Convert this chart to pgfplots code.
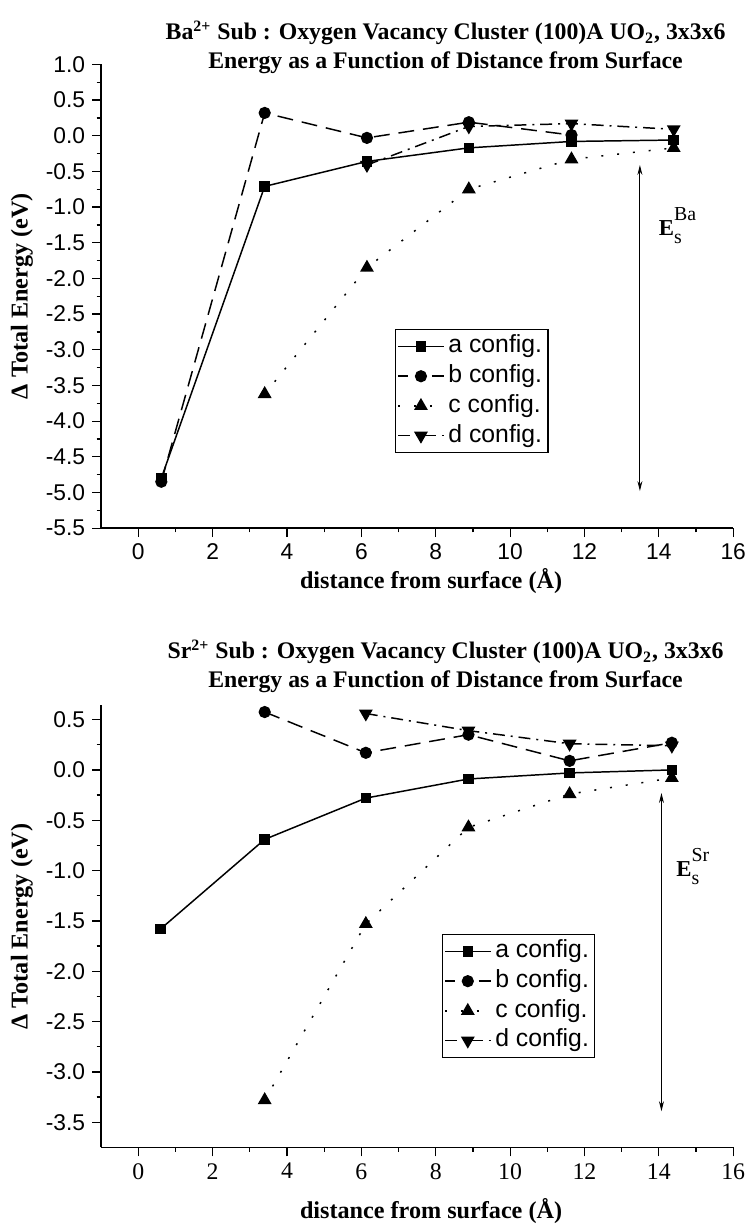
\documentclass[border=0pt]{standalone}
\usepackage{fontspec}
\setmainfont{Liberation Serif}
\newfontfamily\arial{Liberation Sans}
\usepackage{pgfplots}
\pgfplotsset{compat=1.18}
\usetikzlibrary{arrows.meta}

\pgfplotsset{enrg/.style={
  scale only axis, width=319pt,
  axis lines*=left,
  axis line style={line width=0.75pt},
  xmin=-1, xmax=16, xtick={0,2,...,16},
  minor x tick num=1, minor y tick num=1,
  tick align=outside, tick pos=left,
  major tick length=4.5pt, minor tick length=2.2pt,
  every tick/.style={black, line width=0.6pt},
  /pgf/number format/assume math mode=true,
  yticklabel style={font=\arial\fontsize{11.5}{13}\selectfont,
    /pgf/number format/fixed, /pgf/number format/fixed zerofill,
    /pgf/number format/precision=1},
  xlabel={distance from surface (Å)},
  ylabel={Δ Total Energy (eV)},
  every axis y label/.style={at={(axis description cs:-0.116,0.5)}, rotate=90, anchor=base,
    font=\bfseries\fontsize{12.2}{14}\selectfont},
  clip=false,
  legend cell align=left,
  legend style={draw=black, line width=0.6pt, fill=white,
    font=\arial\fontsize{12.5}{14}\selectfont,
    nodes={text height=9pt, text depth=2.6pt, inner ysep=1.7pt, inner xsep=2pt},
    row sep=0pt, inner sep=1pt},
  legend image code/.code={\draw[mark repeat=2, mark phase=2]
    plot coordinates {(0pt,0pt) (11.5pt,0pt) (23pt,0pt)};},
  every axis plot/.append style={black, line width=0.75pt},
}}
\pgfplotsset{
  cfga/.style={solid, mark=square*, mark size=2.3pt, mark options={solid, fill=black}},
  cfgb/.style={dash pattern=on 8pt off 4.5pt, mark=*, mark size=2.7pt, mark options={solid, fill=black},
    legend image code/.code={\draw[solid] (0pt,0pt) -- (5pt,0pt) (17pt,0pt) -- (23pt,0pt);
      \draw plot[only marks] coordinates {(11.5pt,0pt)};}},
  cfgc/.style={dash pattern=on 1pt off 7pt, mark=triangle*, mark size=3.3pt, mark options={solid, fill=black}},
  cfgd/.style={dash pattern=on 6pt off 3pt on 1pt off 3pt, mark=triangle*, mark size=3.3pt,
    mark options={solid, fill=black, rotate=180}},
}
\newcommand{\ttl}{\bfseries\fontsize{12}{14}\selectfont}
\newcommand{\es}[1]{{\fontsize{11.5}{13}\selectfont\bfseries E}{\fontsize{10}{12}\selectfont
  \makebox[0pt][l]{\raisebox{-4pt}{s}}\raisebox{7.5pt}{#1}}}

\begin{document}
\begin{tikzpicture}

% Ba panel
\begin{axis}[enrg,
  at={(0,0)}, anchor=north west,
  height=234pt,
  ymin=-5.5, ymax=1.0,
  ytick={-5.5,-5,...,1.0},
  xticklabel style={font=\arial\fontsize{11.5}{13}\selectfont},
  every axis x label/.style={at={(axis description cs:0.522,0)}, anchor=center, yshift=-26.5pt,
    font=\bfseries\fontsize{12.2}{14}\selectfont},
  legend style={at={(axis cs:6.9,-2.71)}, anchor=north west},
]
\addplot[cfga] coordinates {(0.62,-4.80) (3.40,-0.71) (6.15,-0.36) (8.89,-0.17) (11.65,-0.08) (14.40,-0.06)};
\addplot[cfgb] coordinates {(0.62,-4.85) (3.40,0.32) (6.15,-0.03) (8.89,0.19) (11.65,0.01)};
\addplot[cfgc] coordinates {(3.40,-3.62) (6.15,-1.85) (8.89,-0.75) (11.65,-0.33) (14.40,-0.17)};
\addplot[cfgd] coordinates {(6.15,-0.41) (8.89,0.13) (11.65,0.17) (14.40,0.09)};
\legend{a config., b config., c config., d config.}
\draw[{Stealth[length=5pt,width=2.5pt]}-{Stealth[length=5pt,width=2.5pt]}, line width=0.5pt]
  (axis cs:13.49,-0.41) -- (axis cs:13.49,-4.98);
\node[anchor=base west, inner sep=0pt] at (axis cs:13.99,-1.395) {\es{Ba}};
\node[font=\ttl] at ([yshift=16pt]rel axis cs:0.545,1)
  {Ba\textsuperscript{2+} Sub : Oxygen Vacancy Cluster (100)A UO\textsubscript{2}, 3x3x6};
\node[font=\ttl] at ([yshift=1pt]rel axis cs:0.545,1)
  {Energy as a Function of Distance from Surface};
\end{axis}

% Sr panel
\begin{axis}[enrg,
  at={(0,-323.5pt)}, anchor=north west,
  height=223pt,
  ymin=-3.75, ymax=0.64,
  ytick={-3.5,-3,...,0.5},
  xticklabel style={font=\fontsize{12}{14}\selectfont},
  every axis x label/.style={at={(axis description cs:0.522,0)}, anchor=center, yshift=-32pt,
    font=\bfseries\fontsize{12.2}{14}\selectfont},
  legend style={at={(axis cs:8.16,-1.63)}, anchor=north west},
]
\addplot[cfga] coordinates {(0.60,-1.58) (3.40,-0.69) (6.12,-0.28) (8.88,-0.09) (11.60,-0.03) (14.35,0.00)};
\addplot[cfgb] coordinates {(3.40,0.575) (6.12,0.17) (8.88,0.35) (11.60,0.09) (14.35,0.27)};
\addplot[cfgc] coordinates {(3.40,-3.28) (6.12,-1.53) (8.88,-0.57) (11.60,-0.24) (14.35,-0.08)};
\addplot[cfgd] coordinates {(6.12,0.56) (8.88,0.39) (11.60,0.26) (14.35,0.24)};
\legend{a config., b config., c config., d config.}
\draw[{Stealth[length=5pt,width=2.5pt]}-{Stealth[length=5pt,width=2.5pt]}, line width=0.5pt]
  (axis cs:14.07,-0.23) -- (axis cs:14.07,-3.39);
\node[anchor=base west, inner sep=0pt] at (axis cs:14.46,-1.06) {\es{Sr}};
\node[font=\ttl] at ([yshift=27pt]rel axis cs:0.545,1)
  {Sr\textsuperscript{2+} Sub : Oxygen Vacancy Cluster (100)A UO\textsubscript{2}, 3x3x6};
\node[font=\ttl] at ([yshift=12pt]rel axis cs:0.545,1)
  {Energy as a Function of Distance from Surface};
\end{axis}

\path (-51pt,32.5pt) rectangle (323pt,-582.5pt);
\end{tikzpicture}
\end{document}
